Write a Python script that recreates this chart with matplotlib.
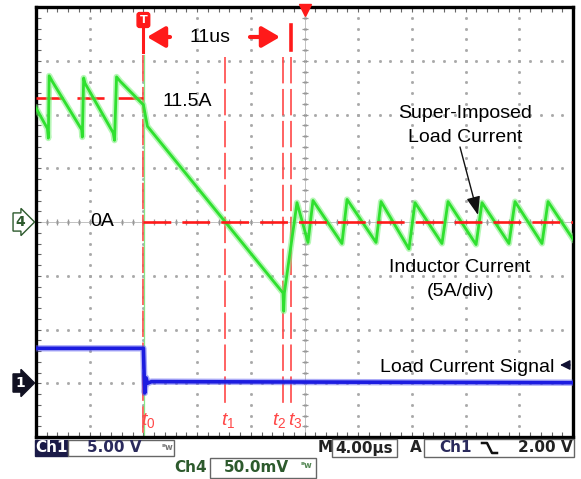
import numpy as np
import matplotlib.pyplot as plt
from matplotlib.patches import Rectangle
from matplotlib.lines import Line2D

plt.rcParams['font.family'] = ['Liberation Sans', 'DejaVu Sans']
plt.rcParams['mathtext.fontset'] = 'custom'
plt.rcParams['mathtext.it'] = 'Liberation Sans:italic'
plt.rcParams['mathtext.rm'] = 'Liberation Sans'
plt.rcParams['lines.scale_dashes'] = False

W, H = 581, 479

# Ch4: inductor current (A) vs time (us), 4us/div, 5A/div
t_ind = [0.0, 0.85, 0.92, 0.98, 1.2, 3.40, 3.45, 3.55, 3.65, 5.75, 5.85, 6.0, 6.26,
         8.0, 8.3, 18.4, 18.45, 18.5, 19.44,
         20.26, 20.63, 22.79, 23.17, 25.33, 25.70, 27.78, 28.23, 30.24, 30.69,
         32.78, 33.22, 35.23, 35.68, 37.69, 38.14, 40.0]
i_ind = [10.6, 8.7, 7.8, 13.6, 13.1, 8.6, 7.9, 13.4, 12.9, 8.3, 7.6, 13.5, 13.1,
         10.9, 8.9, -6.6, -8.3, -6.6, 1.8,
         -1.9, 2.0, -2.0, 2.1, -1.9, 1.9, -2.5, 1.8, -2.0, 1.9,
         -2.1, 1.8, -2.0, 1.9, -2.0, 1.9, -1.6]
i_avg = 11.5

# Ch1: load current signal (V), 5V/div
t_load = [0.0, 8.0, 8.05, 8.1, 8.2, 8.3, 8.6, 40.0]
v_load = [3.25, 3.25, 1.0, -0.9, 0.5, 0.0, 0.15, 0.05]

# cursor times (us)
t_marks = [8.0, 14.1, 18.4, 19.0]
t_names = [r'$\mathit{t_0}$', r'$\mathit{t_1}$', r'$\mathit{t_2}$', r'$\mathit{t_3}$']

RED = '#ff1a1a'
RED_L = '#ff4848'
GREEN = '#2fe02f'
BLUE = '#1c1ce0'


def fx(x):
    return x / W


def fy(y):
    return 1 - y / H


def tx(x):
    # pixel column -> time on the Ch4 axes
    return (x - 36) / 537 * 40


def iy(y):
    # pixel row -> current on the Ch4 axes
    return (222 - y) / 215 * 20


fig = plt.figure(figsize=(W / 100, H / 100), dpi=100)
ax = fig.add_axes([36 / W, 1 - 437 / H, 537 / W, 430 / H])
ax.set_xlim(0, 40)
ax.set_ylim(-20, 20)
for s in ax.spines.values():
    s.set_linewidth(2.4)
ax.set_xticks(np.arange(0, 40.01, 0.8))
ax.set_yticks(np.arange(-20, 20.01, 1))
ax.tick_params(direction='in', length=3.5, width=0.8, color='#666666',
               top=True, right=True, labelbottom=False, labelleft=False)

# dotted graticule
gx = np.arange(0, 40.01, 0.8)
gy = np.arange(-20, 20.01, 1)
for xv in np.arange(4, 37, 4):
    ax.plot(np.full_like(gy, xv), gy, ls='none', marker='s', ms=1.0, color='#a8a8a8', zorder=1)
for yv in np.arange(-15, 16, 5):
    ax.plot(gx, np.full_like(gx, yv), ls='none', marker='s', ms=1.0, color='#a8a8a8', zorder=1)
ax.axvline(20, color='#b8b8b8', lw=0.6, zorder=1)
ax.axhline(0, color='#b8b8b8', lw=0.6, zorder=1)
ax.plot(np.full_like(gy, 20), gy, ls='none', marker='_', ms=5, mew=0.9, color='#999999', zorder=1)
ax.plot(gx, np.zeros_like(gx), ls='none', marker='|', ms=5, mew=0.9, color='#999999', zorder=1)

# cursor lines
ax.plot([t_marks[0]] * 2, [iy(55), -20], color=RED_L, lw=1.2, dashes=(19, 4), zorder=2)
for tm in t_marks[1:]:
    ax.plot([tm] * 2, [iy(57), iy(407)], color=RED_L, lw=1.2, dashes=(19, 4), zorder=2)
ax.plot([t_marks[0]] * 2, [iy(24), iy(52)], color=RED, lw=2.2, zorder=4)
ax.plot([t_marks[3]] * 2, [iy(25), iy(50)], color=RED, lw=2.6, zorder=4)
ax.plot([t_marks[0] + 0.05] * 2, [iy(55), -20], color='#86e886', lw=0.9, zorder=2)

# reference levels
ax.plot([0, t_marks[0]], [i_avg, i_avg], color=RED, lw=1.9, dashes=(19.5, 10), zorder=3)
ax.plot([t_marks[0], 40], [0, 0], color=RED, lw=1.9, dashes=(20, 8), zorder=5)

# inductor current trace
ax.plot(t_ind, i_ind, color='#7cf07c', lw=4.4, alpha=0.55, zorder=3, solid_joinstyle='round')
ax.plot(t_ind, i_ind, color=GREEN, lw=2.0, zorder=4, solid_joinstyle='round')

# load current signal on its own scale
ax2 = ax.twinx()
ax2.set_ylim(-5, 35)
ax2.axis('off')
ax2.plot(t_load, v_load, color='#5a5af0', lw=4.6, alpha=0.5)
ax2.plot(t_load, v_load, color=BLUE, lw=2.6)

# trigger tag and timing arrows
ax.text(t_marks[0], iy(20), 'T', color='white', fontsize=8, fontweight='bold',
        ha='center', va='center', family='DejaVu Sans', zorder=6,
        bbox=dict(boxstyle='round,pad=0.22', fc=RED, ec=RED))
ax.plot(20, iy(10), marker='v', ms=9, color=RED, clip_on=False, zorder=6)
arw = dict(arrowstyle='-|>,head_width=0.35,head_length=0.6', color=RED, lw=3,
           mutation_scale=18, shrinkA=0, shrinkB=0)
ax.annotate('', xy=(tx(147), iy(37)), xytext=(tx(170), iy(37)), arrowprops=arw)
ax.annotate('', xy=(tx(280), iy(37)), xytext=(tx(250), iy(37)), arrowprops=arw)
ax.text(tx(210), iy(37), '11us', fontsize=14, ha='center', va='center')

ax.text(tx(163), iy(102), '11.5A', fontsize=14, ha='left', va='center')
ax.text(tx(102), 0, '0A', fontsize=14, ha='center', va='center')
ax.text(tx(465), iy(113), 'Super-Imposed', fontsize=14, ha='center', va='center')
ax.text(tx(465), iy(137), 'Load Current', fontsize=14, ha='center', va='center')
ax.annotate('', xy=(tx(478), iy(215)), xytext=(tx(460), iy(147)),
            arrowprops=dict(arrowstyle='-|>,head_width=0.3,head_length=0.8', color='#111111',
                            lw=1.0, mutation_scale=14, shrinkA=0, shrinkB=0), zorder=7)
ax.text(tx(460), iy(267), 'Inductor Current', fontsize=14, ha='center', va='center')
ax.text(tx(460), iy(292), '(5A/div)', fontsize=14, ha='center', va='center')
ax.text(tx(380), iy(368), 'Load Current Signal', fontsize=14, ha='left', va='center')
ax.annotate('', xy=(tx(560), iy(365)), xytext=(tx(570), iy(365)),
            arrowprops=dict(arrowstyle='-|>,head_width=0.3,head_length=0.6', color='#111133',
                            lw=1.0, mutation_scale=10, shrinkA=0, shrinkB=0))
for tm, name, xl in zip(t_marks, t_names, [141, 221, 272, 288]):
    ax.text(tx(xl), iy(420), name, color=RED_L, fontsize=14, ha='left', va='center')

# channel ground markers
fig.text(fx(20), fy(222), '4', fontsize=10, fontweight='bold', color='#2d5a2d',
         ha='center', va='center', family='DejaVu Sans',
         bbox=dict(boxstyle='rarrow,pad=0.15', fc='white', ec='#2d5a2d', lw=1))
fig.text(fx(20), fy(383), '1', fontsize=10, fontweight='bold', color='white',
         ha='center', va='center', family='DejaVu Sans',
         bbox=dict(boxstyle='rarrow,pad=0.15', fc='#111122', ec='#111122', lw=1))


# status bar
def box(x0, y0, x1, y1, fc='white', ec='#666666'):
    fig.patches.append(Rectangle((fx(x0), fy(y1)), (x1 - x0) / W, (y1 - y0) / H,
                                 transform=fig.transFigure, fc=fc, ec=ec, lw=1))


def label(x, y, s, color, size=11, ha='center'):
    fig.text(fx(x), fy(y), s, color=color, fontsize=size, fontweight='bold',
             family='DejaVu Sans', ha=ha, va='center')


NAVY = '#2a2a5c'
DKGREEN = '#2d5a2d'
box(35, 440, 68, 456, fc='#1b1b48', ec='#1b1b48')
label(51, 448, 'Ch1', 'white')
box(68, 440, 174, 456)
label(114, 448, '5.00 V', NAVY)
label(167, 447, 'ᴮw', '#777777', size=6)
label(191, 467, 'Ch4', DKGREEN)
box(210, 458, 316, 478)
label(256, 467, '50.0mV', DKGREEN)
label(306, 466, 'ᴮw', '#558855', size=6)
label(325, 448, 'M', '#222222')
box(332, 439, 397, 457)
label(364, 448, '4.00µs', '#222222')
label(416, 448, 'A', '#222222')
box(424, 439, 574, 457)
label(455, 448, 'Ch1', NAVY)
fig.lines.append(Line2D([fx(482), fx(487), fx(492), fx(497)],
                        [fy(443), fy(443), fy(453), fy(453)],
                        transform=fig.transFigure, color='#111111', lw=1.8))
label(573, 448, '2.00 V', '#222222', ha='right')

fig.savefig('out.png', dpi=100)
